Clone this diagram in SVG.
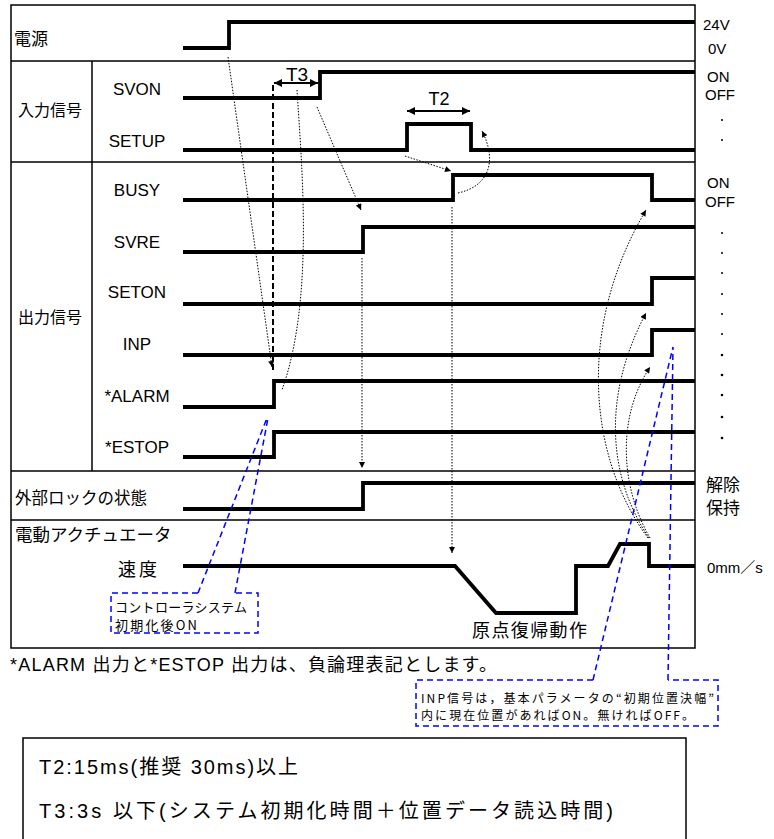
<svg xmlns="http://www.w3.org/2000/svg" width="774" height="839" viewBox="0 0 774 839">
<defs>
<style>
.frame{fill:none;stroke:#000;stroke-width:1.5}
.sig{fill:none;stroke:#000;stroke-width:3.8;stroke-linejoin:miter;stroke-linecap:butt}
.dot{fill:none;stroke:#000;stroke-width:1;stroke-dasharray:1.5 1.5}
.blue{fill:none;stroke:#0000ff;stroke-width:1.5;stroke-dasharray:6 4}
.t{font-family:"Liberation Sans","Noto Sans CJK JP",sans-serif;fill:#000}
.j{font-family:"Noto Sans CJK JP","Liberation Sans",sans-serif;fill:#000}
.m{text-anchor:middle}
</style>
<marker id="ah" viewBox="0 0 10 10" refX="10" refY="5" markerWidth="7" markerHeight="6" markerUnits="userSpaceOnUse" orient="auto"><path d="M0,0 L10,5 L0,10 z" fill="#000"/></marker>
<marker id="dh" viewBox="0 0 10 10" refX="10" refY="5" markerWidth="9" markerHeight="8" markerUnits="userSpaceOnUse" orient="auto-start-reverse"><path d="M0,0 L10,5 L0,10 z" fill="#000"/></marker>
</defs>
<rect width="774" height="839" fill="#fff"/>

<g id="frame">
<rect x="11" y="5" width="684" height="643" class="frame"/>
<path class="frame" d="M11,61 H695 M11,162 H695 M11,471 H695 M11,520 H695 M92,61 V471"/>
</g>

<g id="row-power">
<path class="sig" d="M183,48 H229 V22 H695"/>
<text class="j" x="14" y="45" font-size="17">電源</text>
<text class="t" x="703" y="30" font-size="15">24V</text>
<text class="t" x="708" y="54" font-size="15">0V</text>
</g>

<g id="row-input">
<text class="j" x="18" y="116" font-size="16">入力信号</text>
<path class="sig" d="M183,98 H320 V72 H695"/>
<text class="t m" x="137" y="95" font-size="17">SVON</text>
<path class="sig" d="M183,150 H407 V124 H471 V150 H695"/>
<text class="t m" x="137" y="147" font-size="17">SETUP</text>
<text class="t" x="707" y="82" font-size="15">ON</text>
<text class="t" x="705" y="100" font-size="15">OFF</text>
<circle cx="722" cy="120" r="1"/><circle cx="722" cy="140" r="1"/>
</g>

<g id="row-output">
<text class="j" x="18" y="323" font-size="16">出力信号</text>
<path class="sig" d="M183,200 H453 V175 H652 V200 H695"/>
<text class="t m" x="137" y="196" font-size="17">BUSY</text>
<path class="sig" d="M183,252 H363 V227 H695"/>
<text class="t m" x="137" y="248" font-size="17">SVRE</text>
<path class="sig" d="M183,304 H652 V278 H695"/>
<text class="t m" x="137" y="298" font-size="17">SETON</text>
<path class="sig" d="M183,355 H652 V330 H695"/>
<text class="t m" x="137" y="350" font-size="17">INP</text>
<path class="sig" d="M183,407 H274 V381 H695"/>
<text class="t m" x="137" y="402" font-size="17">*ALARM</text>
<path class="sig" d="M183,457 H274 V432 H695"/>
<text class="t m" x="137" y="453" font-size="17">*ESTOP</text>
<text class="t" x="707" y="188" font-size="15">ON</text>
<text class="t" x="705" y="207" font-size="15">OFF</text>
<g>
<circle cx="722" cy="233" r="1"/><circle cx="722" cy="253" r="1"/><circle cx="722" cy="273" r="1"/>
<circle cx="722" cy="294" r="1"/><circle cx="722" cy="314" r="1"/><circle cx="722" cy="334" r="1"/>
<circle cx="722" cy="355" r="1.3"/><circle cx="722" cy="375" r="1.3"/><circle cx="722" cy="395" r="1.3"/>
<circle cx="722" cy="417" r="1.3"/><circle cx="722" cy="438" r="1.3"/>
</g>
</g>

<g id="row-lock">
<text class="j" x="15" y="504" font-size="16.5">外部ロックの状態</text>
<path class="sig" d="M183,509 H363 V483 H695"/>
<text class="j" x="706" y="491" font-size="17">解除</text>
<text class="j" x="706" y="514" font-size="17">保持</text>
</g>

<g id="row-actuator">
<text class="j" x="15" y="541" font-size="17.5">電動アクチュエータ</text>
<text class="j" x="118" y="576" font-size="18" textLength="39">速度</text>
<path class="sig" d="M183,566 H455 L496,613 H576 V566 H608 L620,544 H649 V566 H695"/>
<text class="t" x="707" y="573" font-size="15">0mm／s</text>
<text class="j" x="472" y="637" font-size="18" textLength="115">原点復帰動作</text>
</g>

<g id="timing">
<path d="M274,83 H318" stroke="#000" stroke-width="2" marker-start="url(#dh)" marker-end="url(#dh)"/>
<text class="t m" x="297" y="81" font-size="19">T3</text>
<path d="M407,111 H470" stroke="#000" stroke-width="2" marker-start="url(#dh)" marker-end="url(#dh)"/>
<text class="t m" x="439" y="105" font-size="18">T2</text>
<path d="M273,85 V370" fill="none" stroke="#000" stroke-width="2" stroke-dasharray="6 3"/>
</g>

<g id="connectors">
<path class="dot" d="M228,57 L272,367" marker-end="url(#ah)"/>
<path class="dot" d="M297,90 C302,170 314,300 282,390"/>
<path class="dot" d="M317,107 L361,210" marker-end="url(#ah)"/>
<path class="dot" d="M362,258 V468" marker-end="url(#ah)"/>
<path class="dot" d="M405,156 L451,171" marker-end="url(#ah)"/>
<path class="dot" d="M458,193 C490,186 497,160 482,131" marker-end="url(#ah)"/>
<path class="dot" d="M452,207 V553" marker-end="url(#ah)"/>
<path class="dot" d="M648,538 C590,460 575,330 646,210" marker-end="url(#ah)"/>
<path class="dot" d="M649,538 C610,480 600,400 646,313" marker-end="url(#ah)"/>
<path class="dot" d="M650,538 C622,490 615,420 650,367" marker-end="url(#ah)"/>
</g>

<g id="note-controller">
<path class="blue" d="M198,593 L267,418 M235,593 L268,418"/>
<path class="blue" d="M198,593 H111 V633 H258 V593 H235"/>
<text class="j" x="115" y="612" font-size="13" textLength="132">コントローラシステム</text>
<text class="j" x="115" y="630" font-size="13" textLength="82">初期化後ON</text>
</g>

<g id="note-inp">
<path class="blue" d="M593,680 L673,347 M668,680 L673,347"/>
<path class="blue" d="M593,680 H416 V726 H718 V680 H668"/>
<text class="j" x="421" y="703" font-size="12" textLength="293">INP信号は，基本パラメータの“初期位置決幅”</text>
<text class="j" x="421" y="720" font-size="12" textLength="273">内に現在位置があればON。無ければOFF。</text>
</g>

<g id="footnote">
<text class="t" x="10" y="671" font-size="18" textLength="487">*ALARM 出力と*ESTOP 出力は、負論理表記とします。</text>
</g>

<g id="legend">
<rect x="23" y="738" width="663" height="110" class="frame"/>
<text class="t" x="39" y="774" font-size="20" textLength="259">T2:15ms(推奨 30ms)以上</text>
<text class="t" x="39" y="818" font-size="20" textLength="574">T3:3s 以下(システム初期化時間＋位置データ読込時間)</text>
</g>
</svg>
